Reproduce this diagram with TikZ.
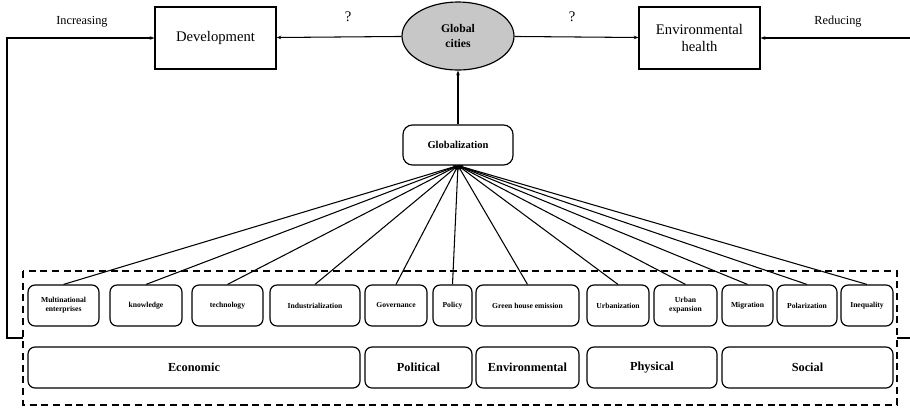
\documentclass[tikz,border=0pt]{standalone}
\usepackage{fontspec}
\setmainfont{Liberation Serif}
\usetikzlibrary{shapes.geometric,arrows.meta}

\tikzset{
  topbox/.style = {draw, line width=1pt, minimum height=1.86cm, inner sep=0pt, align=center, font=\fontsize{12.5}{14}\selectfont},
  factor/.style = {draw, line width=1pt, rounded corners=6pt, minimum height=1.23cm, inner sep=0pt, align=center, font=\fontsize{6.5}{7.5}\selectfont\bfseries},
  dimbox/.style = {draw, line width=1pt, rounded corners=6pt, minimum height=1.23cm, inner sep=0pt, font=\fontsize{10.5}{12}\selectfont\bfseries},
  note/.style = {font=\fontsize{10.5}{12}\selectfont}
}

\begin{document}
\begin{tikzpicture}[x=0.03cm, y=-0.03cm, line width=0.9pt, >={Stealth[length=4pt,width=3pt]}]
\useasboundingbox (0,0) rectangle (910,407);
% top row
\node [topbox, minimum width=3.63cm] (dev) at (215.5,38) {Development};
\node [draw, line width=1pt, ellipse, fill=black!22, minimum width=3.36cm, minimum height=2.04cm, inner sep=0pt, align=center,
       font=\fontsize{10}{12}\selectfont\bfseries] (gc) at (458,36) {Global\\cities};
\node [topbox, minimum width=3.63cm] (env) at (699.5,38) {Environmental\\health};
\node [note] (incr) at (82,22) {Increasing};
\node [note] (redu) at (838,22) {Reducing};
\node [font=\fontsize{12.5}{14}\selectfont] (q1) at (348,17) {?};
\node [font=\fontsize{12.5}{14}\selectfont] (q2) at (572,17) {?};
\draw [->] (gc) -- (dev);
\draw [->] (gc) -- (env);

% globalization
\node [draw, line width=1pt, rounded corners=8pt, minimum width=3.3cm, minimum height=1.2cm, inner sep=0pt,
       font=\fontsize{9}{11}\selectfont\bfseries] (glob) at (458,145) {Globalization};
\draw [->] (glob) -- (gc);

% factors
\node [factor, minimum width=2.13cm] (mne) at (63.5,305.5) {Multinational\\enterprises};
\node [factor, minimum width=2.16cm] (know) at (146,305.5) {knowledge};
\node [factor, minimum width=2.13cm] (tech) at (227.5,305.5) {technology};
\node [factor, minimum width=2.7cm] (indus) at (315,305.5) {Industrialization};
\node [factor, minimum width=1.86cm] (gov) at (396,305.5) {Governance};
\node [factor, minimum width=1.17cm] (pol) at (452.5,305.5) {Policy};
\node [factor, minimum width=3.09cm] (ghg) at (527.5,305.5) {Green house emission};
\node [factor, minimum width=1.86cm] (urb) at (618,305.5) {Urbanization};
\node [factor, minimum width=1.89cm] (urbexp) at (685.5,305.5) {Urban\\expansion};
\node [factor, minimum width=1.53cm] (mig) at (747.5,305.5) {Migration};
\node [factor, minimum width=1.8cm] (polar) at (807,305.5) {Polarization};
\node [factor, minimum width=1.56cm] (ineq) at (867,305.5) {Inequality};
\foreach \f in {mne,know,tech,indus,gov,pol,ghg,urb,urbexp,mig,polar,ineq}
  \draw [->] (\f.north) -- (glob.south);

% dimensions
\node [dimbox, minimum width=9.96cm] (econ) at (194,367.5) {Economic};
\node [dimbox, minimum width=3.21cm] (polit) at (418.5,367.5) {Political};
\node [dimbox, minimum width=3.09cm] (envir) at (527.5,367.5) {Environmental};
\node [dimbox, minimum width=3.9cm] (phys) at (652,367.5) {Physical};
\node [dimbox, minimum width=5.13cm] (soc) at (807.5,367.5) {Social};

% dashed frame and feedback lines
\draw [line width=1.2pt, dash pattern=on 6pt off 4pt] (23,271) rectangle (897,405);
\coordinate (fbl) at (23,338);
\coordinate (fbr) at (897,338);
\coordinate (lcorner) at (7,338);
\coordinate (rcorner) at (925,338);
\draw [->] (fbl) -- (lcorner) |- (dev.west);
\draw [->] (fbr) -- (rcorner) |- (env.east);
\end{tikzpicture}
\end{document}
